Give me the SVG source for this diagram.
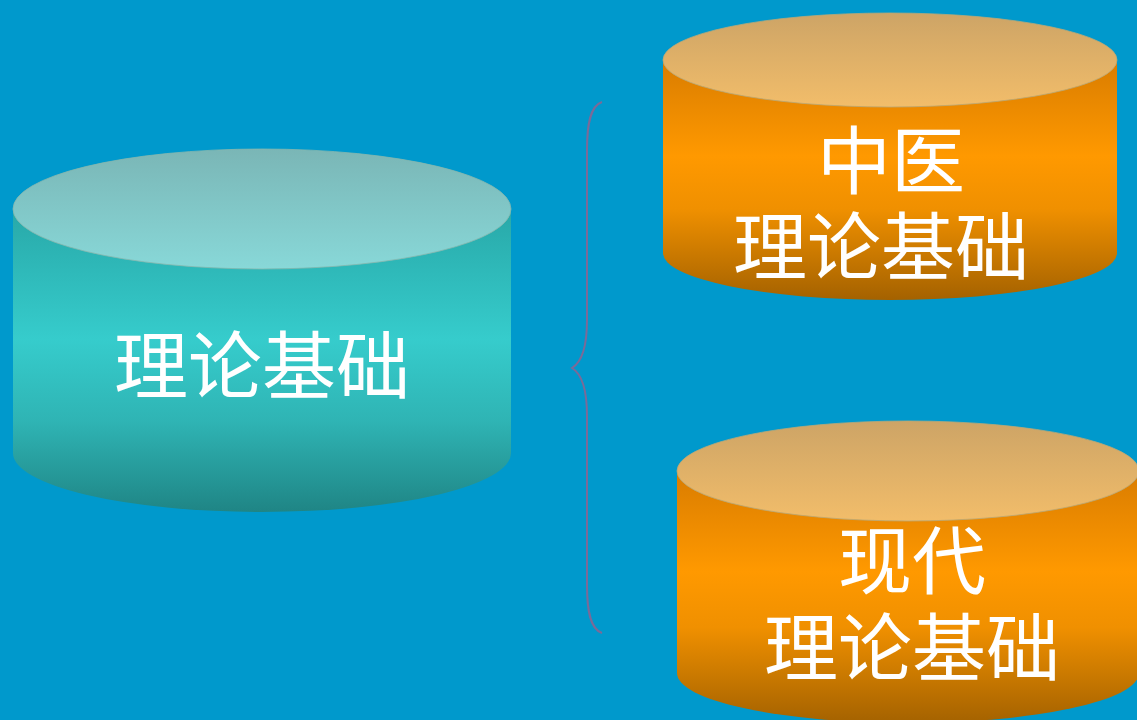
<svg xmlns="http://www.w3.org/2000/svg" width="1137" height="720" viewBox="0 0 1137 720">
  <defs>
    <linearGradient id="tealBody" x1="0" y1="0" x2="0" y2="1">
      <stop offset="0" stop-color="#28a8a8"/>
      <stop offset="0.43" stop-color="#36cccc"/>
      <stop offset="0.7" stop-color="#2fb4b4"/>
      <stop offset="1" stop-color="#1f8585"/>
    </linearGradient>
    <linearGradient id="tealTop" x1="0" y1="0" x2="0" y2="1">
      <stop offset="0" stop-color="#7ab6b6"/>
      <stop offset="1" stop-color="#88d8d8"/>
    </linearGradient>
    <linearGradient id="orangeBody" x1="0" y1="0" x2="0" y2="1">
      <stop offset="0" stop-color="#d97c00"/>
      <stop offset="0.4" stop-color="#ff9900"/>
      <stop offset="0.62" stop-color="#f09000"/>
      <stop offset="1" stop-color="#a46200"/>
    </linearGradient>
    <linearGradient id="orangeTop" x1="0" y1="0" x2="0" y2="1">
      <stop offset="0" stop-color="#cda466"/>
      <stop offset="1" stop-color="#f2bd6a"/>
    </linearGradient>
    <style>
      .lbl { font-family: "Noto Sans CJK SC", "Noto Sans", sans-serif; font-size: 74px; fill: #ffffff; text-anchor: middle; }
      .brace { fill: none; stroke: #7b6a98; stroke-width: 2; }
      .topT { fill: url(#tealTop); stroke: #86b8ae; stroke-width: 0.8; }
      .topO { fill: url(#orangeTop); stroke: #b8a878; stroke-width: 0.8; }
    </style>
  </defs>
  <rect x="0" y="0" width="1137" height="720" fill="#0099cc"/>

  <g id="connectors">
    <path class="brace" d="M602,102 C590,106 587,125 587,150 L587,320 C587,345 582,362 572,368 C582,374 587,391 587,416 L587,585 C587,610 590,629 602,633"/>
  </g>

  <g id="node-base">
    <path d="M13,209 L13,453 A249,59 0 0 0 511,453 L511,209 Z" fill="url(#tealBody)"/>
    <ellipse class="topT" cx="262" cy="209" rx="249" ry="60"/>
    <text class="lbl" x="262" y="393">理论基础</text>
  </g>

  <g id="node-tcm">
    <path d="M663,60 L663,253 A227,47 0 0 0 1117,253 L1117,60 Z" fill="url(#orangeBody)"/>
    <ellipse class="topO" cx="890" cy="60" rx="227" ry="47"/>
    <text class="lbl"><tspan x="891" y="188">中医</tspan><tspan x="881" y="274">理论基础</tspan></text>
  </g>

  <g id="node-modern">
    <path d="M677,471 L677,673 A231,50 0 0 0 1139,673 L1139,471 Z" fill="url(#orangeBody)"/>
    <ellipse class="topO" cx="908" cy="471" rx="231" ry="50"/>
    <text class="lbl"><tspan x="912" y="588">现代</tspan><tspan x="912" y="675">理论基础</tspan></text>
  </g>
</svg>
